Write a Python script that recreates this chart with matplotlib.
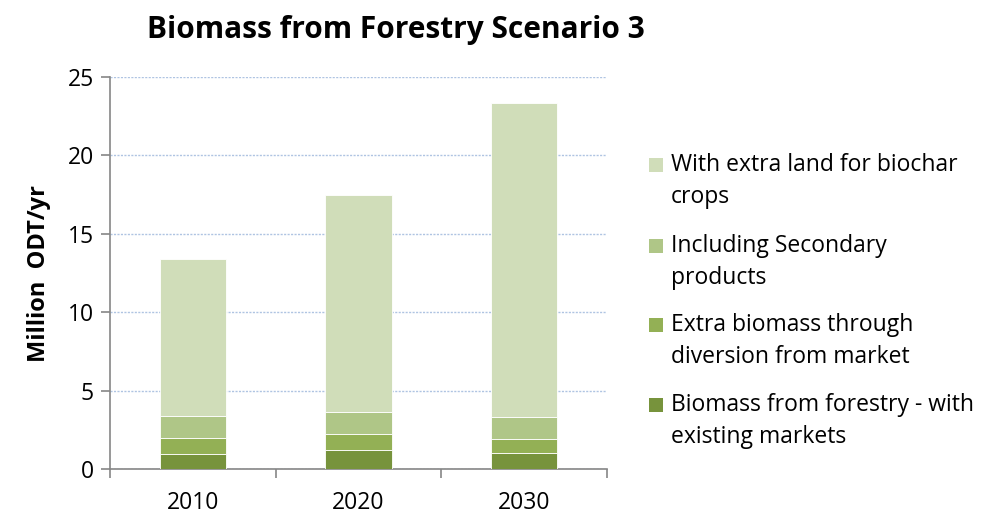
import numpy as np
import matplotlib.pyplot as plt
from matplotlib.patches import Rectangle

plt.rcParams['font.family'] = ['Open Sans', 'DejaVu Sans']

years = ['2010', '2020', '2030']
existing_markets = [0.97, 1.2, 1.0]
diversion = [1.0, 1.06, 0.9]
secondary = [1.38, 1.39, 1.4]
extra_land = [10.05, 13.8, 20.05]

series = [
    ('Biomass from forestry - with\nexisting markets', existing_markets, '#77933C'),
    ('Extra biomass through\ndiversion from market', diversion, '#93B055'),
    ('Including Secondary\nproducts', secondary, '#AFC687'),
    ('With extra land for biochar\ncrops', extra_land, '#D0DDB9'),
]

W, H = 985, 524
fig = plt.figure(figsize=(W / 100, H / 100), dpi=100)
ax = fig.add_axes([110 / W, 1 - 469 / H, 497 / W, 392 / H])

x = np.arange(len(years))
bottom = np.zeros(len(years))
for label, vals, color in series:
    ax.bar(x, vals, width=0.4, bottom=bottom, color=color,
           edgecolor='white', linewidth=0.6, zorder=3)
    bottom += np.array(vals)

ax.set_xlim(-0.5, 2.5)
ax.set_ylim(0, 25)
ax.set_yticks(range(0, 26, 5))
ax.yaxis.grid(True, color='#AFC4E2', linestyle=(0, (1.5, 1)), linewidth=1.0, zorder=0)

# ticks on the category boundaries, year labels at the bar centers
ax.set_xticks([-0.5, 0.5, 1.5, 2.5])
ax.set_xticklabels([])
ax.set_xticks(x, minor=True)
ax.set_xticklabels(years, minor=True)
ax.tick_params(axis='x', which='major', length=6.5, direction='out', color='#868686', width=1.2)
ax.tick_params(axis='x', which='minor', length=0, pad=16, labelsize=16.5)
ax.tick_params(axis='y', length=6.5, direction='out', color='#868686', width=1.2,
               labelsize=16.5, pad=5)

for side in ['top', 'right']:
    ax.spines[side].set_visible(False)
for side in ['left', 'bottom']:
    ax.spines[side].set_color('#868686')
    ax.spines[side].set_linewidth(1.2)

ax.set_ylabel('Million  ODT/yr', fontsize=17, fontweight='bold', labelpad=12)
fig.text(396 / W, 1 - 30 / H, 'Biomass from Forestry Scenario 3', fontsize=21.5,
         fontweight='bold', ha='center', va='center')

# legend, top entry first
line_y = [165, 246, 325, 405]
for (label, _, color), y0 in zip(series[::-1], line_y):
    fig.add_artist(Rectangle((649 / W, 1 - (y0 + 7) / H), 14 / W, 14 / H,
                             transform=fig.transFigure, facecolor=color,
                             edgecolor='none'))
    for i, line in enumerate(label.split('\n')):
        fig.text(671 / W, 1 - (y0 + 32 * i) / H, line, fontsize=16.5,
                 ha='left', va='center')

fig.savefig('out.png', dpi=100)
